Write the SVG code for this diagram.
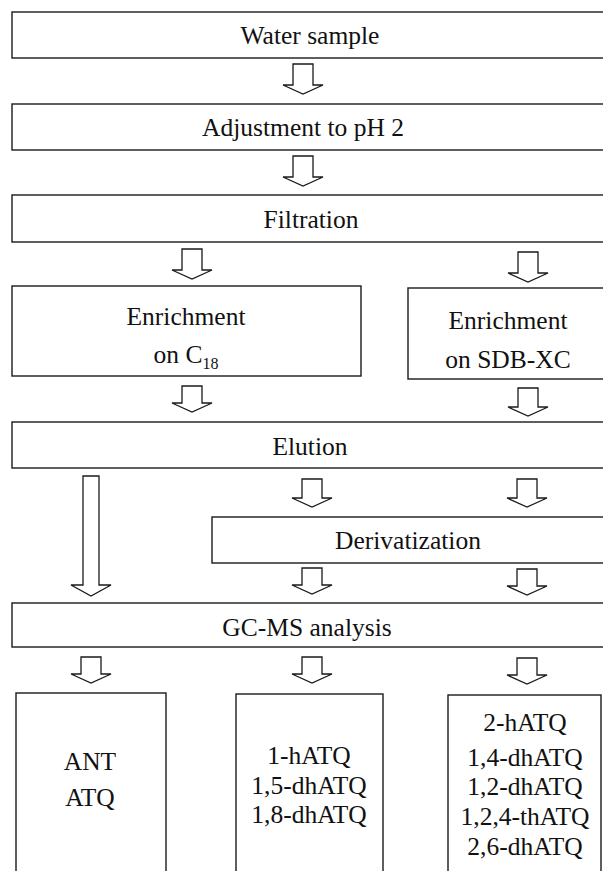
<svg xmlns="http://www.w3.org/2000/svg" width="603" height="871" viewBox="0 0 603 871">
<style>
.box{fill:#fff;stroke:#1a1a1a;stroke-width:1.4}
.arr{fill:#fff;stroke:#1a1a1a;stroke-width:1.3;stroke-linejoin:miter}
.t{font-family:'Liberation Serif','DejaVu Serif','Times New Roman',serif;font-size:25.5px;fill:#111;text-anchor:middle}
.sub{font-size:16px}
</style>
<rect width="603" height="871" fill="#fff"/>
<g id="connectors">
<polygon class="arr" points="293,64 313,64 313,85 323,85 303,94 283,85 293,85"/>
<polygon class="arr" points="293,156 313,156 313,177 323,177 303,186 283,177 293,177"/>
<polygon class="arr" points="182,249 202,249 202,270 212,270 192,279 172,270 182,270"/>
<polygon class="arr" points="518,252 538,252 538,273 548,273 528,282 508,273 518,273"/>
<polygon class="arr" points="182,386 202,386 202,403 212,403 192,412 172,403 182,403"/>
<polygon class="arr" points="518,388 538,388 538,407 548,407 528,416 508,407 518,407"/>
<polygon class="arr" points="83,476 99,476 99,585 111,585 91,596 71,585 83,585"/>
<polygon class="arr" points="302,479 322,479 322,498 332,498 312,507 292,498 302,498"/>
<polygon class="arr" points="517,479 537,479 537,498 547,498 527,507 507,498 517,498"/>
<polygon class="arr" points="302,568 322,568 322,585 332,585 312,594 292,585 302,585"/>
<polygon class="arr" points="517,569 537,569 537,586 547,586 527,595 507,586 517,586"/>
<polygon class="arr" points="81,657 101,657 101,674 111,674 91,683 71,674 81,674"/>
<polygon class="arr" points="302,657 322,657 322,674 332,674 312,683 292,674 302,674"/>
<polygon class="arr" points="517,658 537,658 537,675 547,675 527,684 507,675 517,675"/>
</g>
<g id="water">
<rect class="box" x="12" y="12" width="603" height="46"/>
<text class="t" x="310" y="44">Water sample</text>
</g>
<g id="adjust">
<rect class="box" x="12" y="104" width="603" height="46"/>
<text class="t" x="303" y="136">Adjustment to pH 2</text>
</g>
<g id="filtration">
<rect class="box" x="12" y="195" width="603" height="47"/>
<text class="t" x="311" y="228">Filtration</text>
</g>
<g id="enrich-c18">
<rect class="box" x="12" y="286" width="349" height="90"/>
<text class="t" x="186" y="325">Enrichment</text>
<text class="t" x="186" y="363">on C<tspan class="sub" dy="6">18</tspan></text>
</g>
<g id="enrich-sdb">
<rect class="box" x="408" y="288" width="207" height="91"/>
<text class="t" x="508" y="329">Enrichment</text>
<text class="t" x="508" y="368">on SDB-XC</text>
</g>
<g id="elution">
<rect class="box" x="12" y="422" width="603" height="46"/>
<text class="t" x="310" y="455">Elution</text>
</g>
<g id="derivatization">
<rect class="box" x="212" y="517" width="403" height="46"/>
<text class="t" x="408" y="549">Derivatization</text>
</g>
<g id="gcms">
<rect class="box" x="12" y="603" width="603" height="44"/>
<text class="t" x="307" y="636">GC-MS analysis</text>
</g>
<g id="res-ant">
<rect class="box" x="16" y="693" width="150" height="200"/>
<text class="t" x="90" y="770">ANT</text>
<text class="t" x="90" y="806">ATQ</text>
</g>
<g id="res-hatq">
<rect class="box" x="236" y="694" width="147" height="200"/>
<text class="t" x="309" y="764">1-hATQ</text>
<text class="t" x="309" y="794">1,5-dhATQ</text>
<text class="t" x="309" y="823">1,8-dhATQ</text>
</g>
<g id="res-deriv">
<rect class="box" x="448" y="695" width="153" height="200"/>
<text class="t" x="525" y="731">2-hATQ</text>
<text class="t" x="525" y="766">1,4-dhATQ</text>
<text class="t" x="525" y="795">1,2-dhATQ</text>
<text class="t" x="525" y="825">1,2,4-thATQ</text>
<text class="t" x="525" y="855">2,6-dhATQ</text>
</g>
</svg>
